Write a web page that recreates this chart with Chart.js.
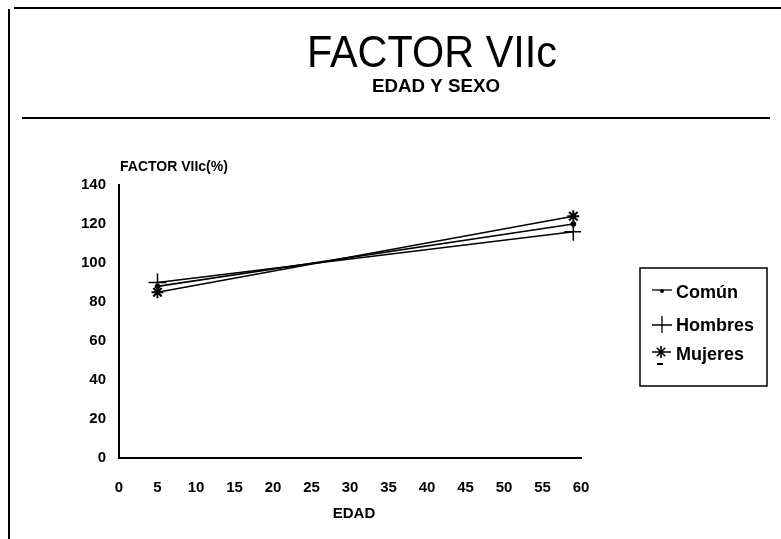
<!DOCTYPE html>
<html>
<head>
<meta charset="utf-8">
<script src="https://cdn.jsdelivr.net/npm/chart.js@4"></script>
<style>
html,body{margin:0;padding:0;background:#fff;}
#wrap{width:781px;height:539px;position:relative;}
</style>
</head>
<body>
<div id="wrap"><canvas id="c" width="781" height="539"></canvas></div>
<script>
const edad = [5, 59];
const comun = [88, 120];
const hombres = [90, 116];
const mujeres = [85, 124];
const seriesNames = ['Común', 'Hombres', 'Mujeres'];
const yTicks = [0, 20, 40, 60, 80, 100, 120, 140];
const xTicks = [0, 5, 10, 15, 20, 25, 30, 35, 40, 45, 50, 55, 60];

const FONT = "'Liberation Sans', Arial, sans-serif";

const decor = {
  id: 'decor',
  afterDraw(chart) {
    const ctx = chart.ctx;
    ctx.save();
    ctx.fillStyle = '#000';
    // frame lines
    ctx.fillRect(14, 7, 767, 2);
    ctx.fillRect(8, 9, 2, 530);
    ctx.fillRect(22, 117, 748, 2);
    // titles
    ctx.textAlign = 'center';
    ctx.textBaseline = 'alphabetic';
    ctx.font = '45px ' + FONT;
    ctx.fillText('FACTOR VIIc', 432, 67, 250);
    ctx.font = 'bold 19px ' + FONT;
    ctx.fillText('EDAD Y SEXO', 436, 92, 128);
    ctx.font = 'bold 14px ' + FONT;
    ctx.textAlign = 'left';
    ctx.fillText('FACTOR VIIc(%)', 120, 171);
    ctx.textAlign = 'center';
    ctx.font = 'bold 15px ' + FONT;
    ctx.fillText('EDAD', 354, 518);
    // legend box
    ctx.lineWidth = 1.5;
    ctx.strokeStyle = '#000';
    ctx.strokeRect(640, 268, 127, 118);
    const ys = [292, 325, 354];
    ctx.textAlign = 'left';
    ctx.textBaseline = 'middle';
    ctx.font = 'bold 18px ' + FONT;
    chart.data.datasets.forEach((ds, i) => {
      const y = ys[i];
      ctx.lineWidth = 1.3;
      ctx.beginPath();
      if (i === 0) {
        ctx.moveTo(652, y - 2); ctx.lineTo(672, y - 2); ctx.stroke();
        ctx.beginPath(); ctx.arc(662, y - 1, 2, 0, Math.PI * 2); ctx.fill();
      } else if (i === 1) {
        ctx.moveTo(652, y); ctx.lineTo(672, y);
        ctx.moveTo(662, y - 9); ctx.lineTo(662, y + 8); ctx.stroke();
      } else {
        ctx.lineWidth = 1.6;
        const cx = 661, cy = y - 2, r = 6;
        for (let k = 0; k < 4; k++) {
          const a = k * Math.PI / 4;
          ctx.moveTo(cx - r * Math.cos(a), cy - r * Math.sin(a));
          ctx.lineTo(cx + r * Math.cos(a), cy + r * Math.sin(a));
        }
        ctx.moveTo(652, cy); ctx.lineTo(671, cy);
        ctx.stroke();
        ctx.fillRect(657, y + 9, 6, 2);
      }
      ctx.fillText(ds.label, 676, y + 1, 88);
    });
    ctx.restore();
  }
};

function pts(xs, ys) { return xs.map((x, i) => ({ x: x, y: ys[i] })); }

new Chart(document.getElementById('c'), {
  type: 'line',
  data: {
    datasets: [
      { label: seriesNames[0], data: pts(edad, comun), borderColor: '#000', backgroundColor: '#000', borderWidth: 1.6, pointStyle: 'circle', pointRadius: 2.5, pointBorderWidth: 1 },
      { label: seriesNames[1], data: pts(edad, hombres), borderColor: '#000', backgroundColor: '#000', borderWidth: 1.6, pointStyle: 'cross', pointRadius: 9, pointBorderWidth: 1.5 },
      { label: seriesNames[2], data: pts(edad, mujeres), borderColor: '#000', backgroundColor: '#000', borderWidth: 1.6, pointStyle: 'star', pointRadius: 6, pointBorderWidth: 2 }
    ]
  },
  options: {
    responsive: false,
    animation: false,
    layout: { padding: { left: 0, right: 200, top: 185, bottom: 0 } },
    plugins: { legend: { display: false }, tooltip: { enabled: false }, title: { display: false } },
    scales: {
      x: {
        type: 'linear', min: 0, max: 60,
        afterBuildTicks: s => { s.ticks = xTicks.map(v => ({ value: v })); },
        afterFit: s => { s.height = 81; },
        grid: { display: false, drawTicks: false },
        border: { display: true, color: '#000', width: 2 },
        ticks: { color: '#000', padding: 21, font: { family: FONT, size: 15, weight: 'bold' }, maxRotation: 0, autoSkip: false }
      },
      y: {
        type: 'linear', min: 0, max: 140,
        afterBuildTicks: s => { s.ticks = yTicks.map(v => ({ value: v })); },
        afterFit: s => { s.width = 119; },
        grid: { display: false, drawTicks: false },
        border: { display: true, color: '#000', width: 2 },
        ticks: { color: '#000', padding: 13, font: { family: FONT, size: 15, weight: 'bold' } }
      }
    }
  },
  plugins: [decor]
});
</script>
</body>
</html>
